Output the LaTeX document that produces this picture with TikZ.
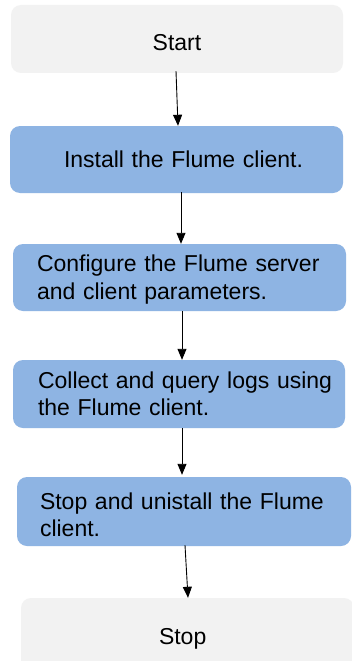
\documentclass[tikz,border=0pt]{standalone}
\usepackage{fontspec}
\setmainfont{Liberation Sans}
\usetikzlibrary{arrows.meta}
\definecolor{stepblue}{HTML}{8EB4E3}
\definecolor{termgray}{HTML}{F2F2F2}
\begin{document}
\begin{tikzpicture}[x=1pt,y=-1pt,
  every node/.style={font=\fontsize{23}{27.5}\selectfont},
  basebox/.style={rounded corners=10pt, draw=none, align=left, inner ysep=0pt, minimum height=67pt},
  stepbox/.style={basebox, fill=stepblue},
  termbox/.style={basebox, fill=termgray},
  arr/.style={draw=black, line width=0.9pt, -{Triangle[length=11pt,width=9pt]}}]
\clip (0,0) rectangle (352,661);
\fill[white] (0,0) rectangle (352,661);
\node[termbox, minimum width=332pt, minimum height=68pt, align=center, text height=22.2pt, text depth=0pt] (start) at (177,39) {Start};
\node[stepbox, inner xsep=54pt, text width=225pt] (b2) at (176.5,159.5) {\mbox{Install the Flume client.}};
\node[stepbox, inner xsep=24pt, text width=285pt] (b3) at (179.5,277.5) {\mbox{\rule{0pt}{20.8pt}Configure the Flume server}\\\mbox{and client parameters.}};
\node[stepbox, inner xsep=25pt, text width=282pt, minimum height=68pt] (b4) at (179,394) {\mbox{Collect and query logs using}\\\mbox{the Flume client.}};
\node[stepbox, inner xsep=23pt, text width=288pt, minimum height=69pt] (b5) at (184,511.5) {\mbox{\rule{0pt}{22.8pt}Stop and unistall the Flume}\\\mbox{client.}};
\node[termbox, inner xsep=138pt, text width=57pt, minimum height=72pt, text height=21.7pt, text depth=0pt] (stop) at (187.5,634) {\mbox{Stop}};
\draw[arr] ([xshift=-1pt,yshift=2pt]start.south) -- ([xshift=1.5pt]b2.north);
\draw[arr] ([xshift=4.5pt,yshift=1pt]b2.south) -- ([xshift=1.5pt]b3.north);
\draw[arr] ([xshift=2.5pt]b3.south) -- ([xshift=3pt]b4.north);
\draw[arr] ([xshift=3pt]b4.south) -- ([xshift=-2pt,yshift=2pt]b5.north);
\draw[arr] ([xshift=1pt,yshift=1pt]b5.south) -- ([xshift=0.5pt]stop.north);
\end{tikzpicture}
\end{document}
